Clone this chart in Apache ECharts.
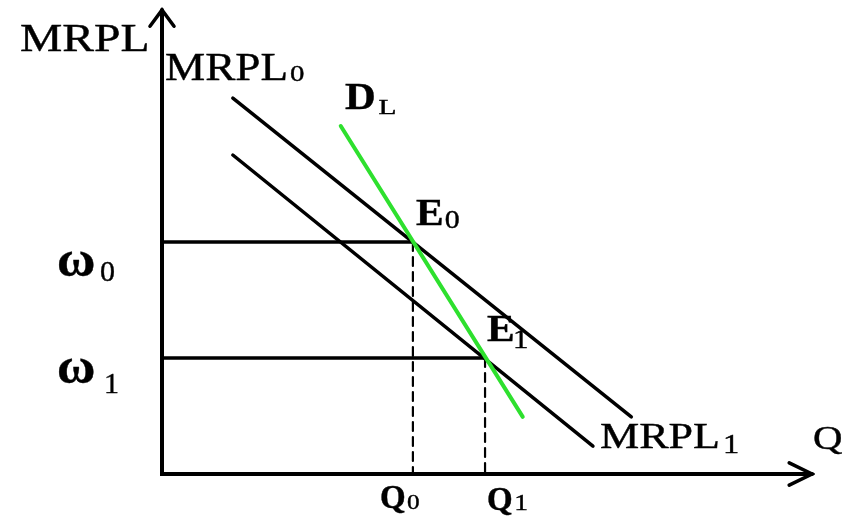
<!DOCTYPE html>
<html>
<head>
<meta charset="utf-8">
<script src="https://cdn.jsdelivr.net/npm/echarts@6/dist/echarts.min.js"></script>
<style>
html,body{margin:0;padding:0;background:#fff;}
#chart{width:846px;height:527px;}
</style>
</head>
<body>
<div id="chart"></div>
<script>
// curves (Q, MRPL) endpoints
var mrpl0 = [[10.9, 81.0], [72.2, 12.3]];
var mrpl1 = [[10.9, 68.75], [66.3, 6.0]];
var demandL = [[27.5, 75.0], [55.5, 12.3]];

// equilibrium wages and quantities
var wages = [50, 25];          // ω0, ω1
var quantities = [38.6, 49.7]; // Q0, Q1

// axes and their open arrow heads
var axesLine = [[0, 100], [0, 0], [100, 0]];
var yArrow = [[-1.85, 96.5], [0, 100], [1.85, 96.5]];
var xArrow = [[96.5, 2.4], [100, 0], [96.5, -2.4]];

var serif = '"Liberation Serif", "Times New Roman", serif';
var green = '#2ee02e';

var chart = echarts.init(document.getElementById('chart'));

function seg(data, color, width, type) {
	return {
		type: 'line',
		data: data,
		showSymbol: false,
		symbol: 'none',
		clip: false,
		silent: true,
		animation: false,
		lineStyle: {color: color, width: width, type: type || 'solid', cap: 'round', join: 'miter'}
	};
}

var series = [];
for (var i = 0; i < wages.length; i++) {
	series.push(seg([[0, wages[i]], [quantities[i], wages[i]]], '#000', 3.5));
	series.push(seg([[quantities[i], wages[i]], [quantities[i], 0]], '#000', 2.2, [9, 6]));
}
series.push(seg(mrpl0, '#000', 3.5));
series.push(seg(mrpl1, '#000', 3.5));
series.push(seg(axesLine, '#000', 4));
series.push(seg(yArrow, '#000', 3.5));
series.push(seg(xArrow, '#000', 3.5));
series.push(seg(demandL, green, 4));

// the plot starts at the page's left edge so labels/arrows left of Q=0 stay in range
chart.setOption({
	backgroundColor: '#fff',
	animation: false,
	grid: {left: 0, top: 10, width: 812, height: 464},
	xAxis: {
		type: 'value', min: -162 / 6.5, max: 100, show: false
	},
	yAxis: {
		type: 'value', min: 0, max: 100, show: false
	},
	series: series
});

// text: [string, anchor x, anchor y (baseline, data units), font size, bold, scaleX]
var labelLayout = [
	['MRPL', -21.85, 90.7, 39, false, 1.22],
	['MRPL', 0.46, 84.3, 40, false, 1.13],
	['0', 19.7, 84.3, 24, false, 1.2],
	['D', 28.15, 78.0, 37, true, 1.15],
	['L', 33.3, 77.2, 21, false, 1.4],
	['E', 39.08, 53.2, 37, true, 1.12],
	['0', 43.5, 52.6, 26, false, 1.15],
	['E', 50.0, 28.2, 37, true, 1.12],
	['1', 54.0, 26.7, 28, false, 1.1],
	['MRPL', 67.38, 5.0, 35, false, 1.26],
	['1', 86.3, 4.1, 27, false, 1.2],
	['Q', 100.15, 5.0, 34, false, 1.2],
	['Q', 33.54, -7.76, 33, true, 1.0],
	['0', 37.7, -7.76, 21, false, 1.2],
	['Q', 50.0, -8.19, 33, true, 1.0],
	['1', 54.2, -8.19, 23, false, 1.2],
	['ω', -16.15, 41.8, 50, true, 1.05],
	['0', -9.54, 41.2, 30, false, 1.0],
	['ω', -16.15, 18.75, 50, true, 1.05],
	['1', -8.92, 17.0, 30, false, 1.0]
];

var graphics = [];
for (var k = 0; k < labelLayout.length; k++) {
	var l = labelLayout[k];
	var p = chart.convertToPixel({gridIndex: 0}, [l[1], l[2]]);
	graphics.push({
		type: 'text',
		x: p[0],
		y: p[1] - 0.33 * l[3],
		scaleX: l[5],
		silent: true,
		z: 10,
		style: {
			text: l[0],
			x: 0, y: 0,
			align: 'left',
			verticalAlign: 'middle',
			fill: '#000',
			stroke: '#000',
			lineWidth: 0.4,
			font: (l[4] ? 'bold ' : '') + l[3] + 'px ' + serif
		}
	});
}
chart.setOption({graphic: graphics});
</script>
</body>
</html>
